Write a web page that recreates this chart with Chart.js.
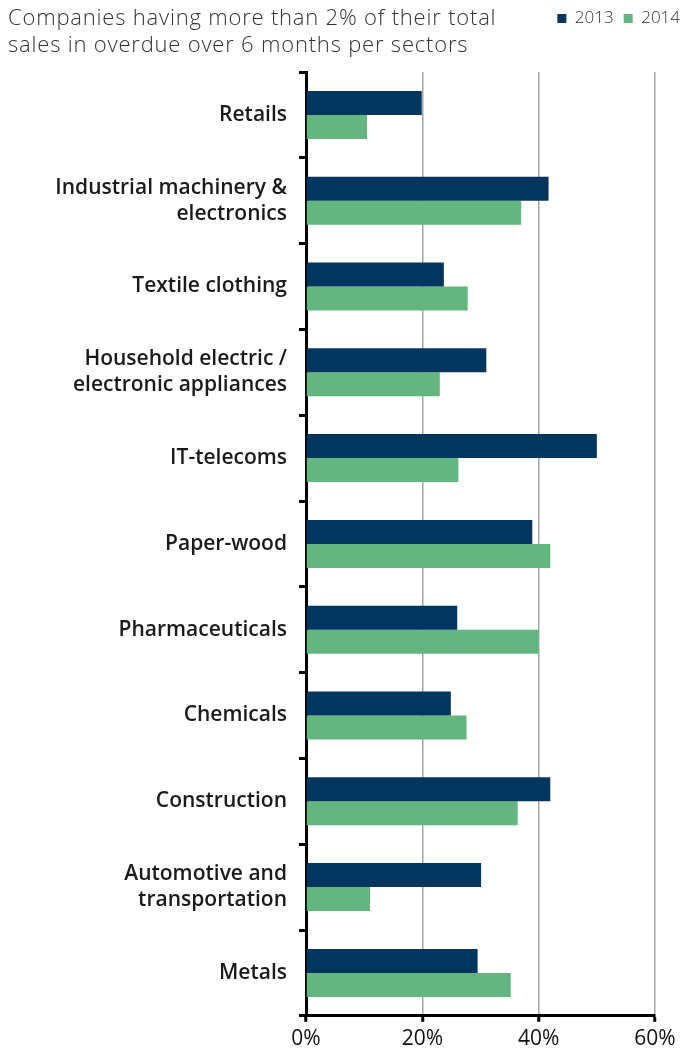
<!DOCTYPE html>
<html>
<head>
<meta charset="utf-8">
<script src="https://cdn.jsdelivr.net/npm/chart.js@4"></script>
<style>
  html, body { margin: 0; padding: 0; background: #fff; }
  #wrap { position: relative; width: 686px; height: 1057px; }
  #title {
    position: absolute; left: 8px; top: 3px;
    font: 300 22px 'Open Sans', sans-serif; color: #333; line-height: 27px; letter-spacing: 0.8px;
  }
</style>
</head>
<body>
<div id="wrap">
  <div id="title">Companies having more than 2% of their total<br>sales in overdue over 6 months per sectors</div>
  <canvas id="chart" width="686" height="1057"></canvas>
</div>
<script>
'use strict';
// ── Data ──────────────────────────────────────────────────────────────────
const SECTORS = [
    'Retails',
    ['Industrial machinery &', 'electronics'],
    'Textile clothing',
    ['Household electric /', 'electronic appliances'],
    'IT-telecoms',
    'Paper-wood',
    'Pharmaceuticals',
    'Chemicals',
    'Construction',
    ['Automotive and', 'transportation'],
    'Metals',
];
const Y2013 = [19.9, 41.7, 23.7, 31.0, 50.0, 38.9, 26.0, 24.9, 42.0, 30.1, 29.5];
const Y2014 = [10.5, 37.0, 27.8, 23.0, 26.2, 42.0, 40.0, 27.6, 36.4, 11.0, 35.2];
const X_TICKS = [0, 20, 40, 60];

const NAVY  = '#03365e';
const GREEN = '#63b67d';
const FONT  = "'Open Sans', sans-serif";

// push the plot down below the title block
const legendSpacer = {
    id: 'legendSpacer',
    beforeInit(chart) {
        const fit = chart.legend.fit;
        chart.legend.fit = function () { fit.call(this); this.height += 35; };
    }
};

new Chart(document.getElementById('chart'), {
    type: 'bar',
    data: {
        labels: SECTORS,
        datasets: [
            { label: '2013', data: Y2013, backgroundColor: NAVY },
            { label: '2014', data: Y2014, backgroundColor: GREEN },
        ]
    },
    options: {
        indexAxis: 'y',
        animation: false,
        responsive: false,
        layout: { padding: { left: 6, right: -4, top: 0, bottom: 0 } },
        datasets: { bar: { categoryPercentage: 0.56, barPercentage: 1.0 } },
        plugins: {
            legend: {
                position: 'top', align: 'end',
                labels: {
                    boxWidth: 9, boxHeight: 9, padding: 10,
                    color: '#333', font: { family: FONT, size: 17, weight: 300 }
                }
            },
            tooltip: { enabled: false }
        },
        scales: {
            x: {
                min: 0, max: 60,
                afterBuildTicks: s => { s.ticks = X_TICKS.map(v => ({ value: v })); },
                border: { color: '#000', width: 3 },
                grid: { color: '#a6a6a6', lineWidth: 1.5, tickColor: '#000', tickWidth: 3, tickLength: 6 },
                ticks: { color: '#111', padding: 5, font: { family: FONT, size: 21, weight: 500 },
                         callback: v => v + '%' }
            },
            y: {
                afterFit: s => { s.width = 300; },
                border: { color: '#000', width: 3 },
                grid: { offset: true, drawOnChartArea: false, tickColor: '#000', tickWidth: 3, tickLength: 7 },
                ticks: { color: '#1a1a1a', padding: 12, font: { family: FONT, size: 21, weight: 600, lineHeight: 1.25 } }
            },
            // empty right-hand gutter so the 60% line sits where the original does
            gutter: {
                type: 'category', position: 'right', labels: [''],
                afterFit: s => { s.width = 35; },
                grid: { display: false }, border: { display: false }, ticks: { display: false }
            }
        }
    },
    plugins: [legendSpacer]
});
</script>
</body>
</html>
